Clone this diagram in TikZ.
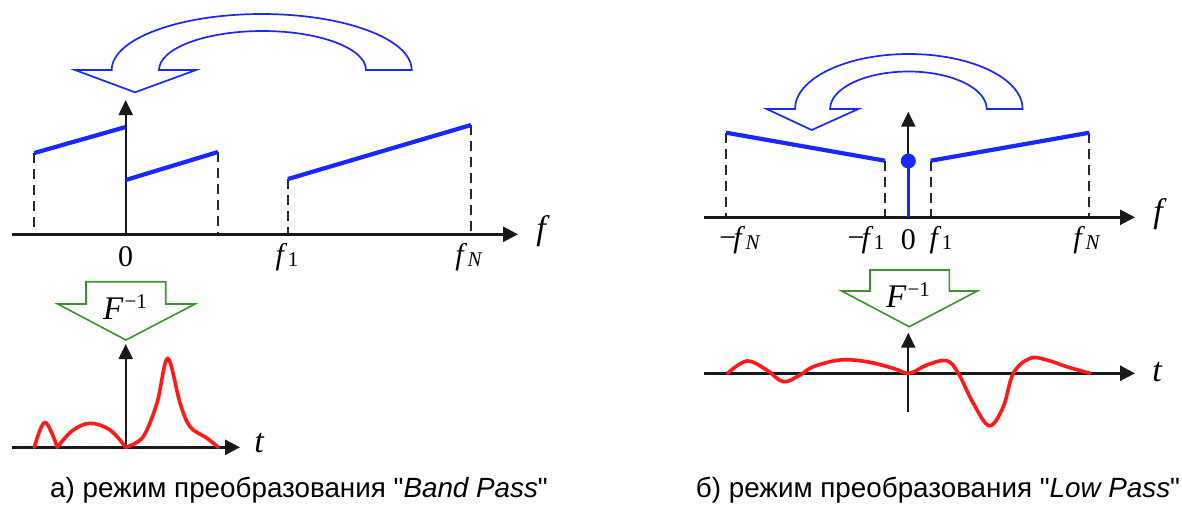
\documentclass[tikz,border=0pt]{standalone}
\usepackage{fontspec}
\setmainfont{Liberation Serif}
\newfontfamily\capfont{Liberation Sans}
\usetikzlibrary{arrows.meta}
\definecolor{sigblue}{RGB}{20,40,255}
\definecolor{sigred}{RGB}{255,25,25}
\definecolor{arrgreen}{RGB}{55,150,40}
\definecolor{axisgray}{RGB}{25,25,25}
\definecolor{dashgray}{RGB}{40,40,40}
\newcommand{\fsub}[1]{\textit{f}\kern0.5pt{\fontsize{21}{21}\selectfont\raisebox{-0.25ex}{#1}}}
\newcommand{\finv}{{\fontsize{33}{33}\selectfont\textit{F}\kern1pt\raisebox{11pt}{\fontsize{21}{21}\selectfont −1}}}
\begin{document}
\begin{tikzpicture}[x=1pt,y=-1pt,
  axis/.style={line width=2.6pt,draw=axisgray,-{Triangle[length=15pt,width=15pt]}},
  vaxis/.style={line width=2.2pt,draw=axisgray,-{Triangle[length=15pt,width=14pt]}},
  guide/.style={line width=2pt,draw=dashgray,dash pattern=on 10pt off 6pt},
  spec/.style={line width=4.2pt,draw=sigblue},
  sig/.style={line width=3.6pt,draw=sigred,line cap=round,line join=round},
  bentarrow/.style={line width=1.7pt,draw=sigblue,fill=white,line join=miter},
  invarrow/.style={line width=1.6pt,draw=arrgreen,fill=white},
  lbl/.style={font=\fontsize{30}{32}\selectfont,inner sep=0pt},
  varlbl/.style={font=\fontsize{34}{36}\selectfont\itshape,inner sep=0pt},
  captxt/.style={font=\capfont\fontsize{27.8}{32}\selectfont,inner sep=0pt,anchor=base}
]
\useasboundingbox (0,0) rectangle (1182,507);

% ================= left panel (Band Pass) =================
\coordinate (LfS) at (12,234.3);
\coordinate (LfE) at (518,234.3);
\coordinate (Lo) at (125.7,234.3);
\coordinate (LvT) at (125.7,100);
\coordinate (La1) at (34.3,234.3);  \coordinate (La1t) at (34.3,153);
\coordinate (La2) at (218,234.3);   \coordinate (La2t) at (218,152);
\coordinate (La3) at (288,234.3);   \coordinate (La3t) at (288,179);
\coordinate (La4) at (471,234.3);   \coordinate (La4t) at (471,125);
\coordinate (Lv1) at (125.7,127);
\coordinate (Lv2) at (125.7,180);

\draw[guide] (La1t) -- (La1);
\draw[guide] (La2t) -- (La2);
\draw[guide] (La3t) -- (La3);
\draw[guide] (La4t) -- (La4);
\draw[axis] (LfS) -- (LfE);
\draw[vaxis] (Lo) -- (LvT);
\draw[spec] (La1t) -- (Lv1);
\draw[spec] (Lv2) -- (La2t);
\draw[spec] (La3t) -- (La4t);

\node[lbl] (L0) at (125.7,257) {0};
\node[lbl] (Lf1) at (287,257) {\fsub{1}};
\node[lbl] (LfN) at (469,257) {\fsub{\textit{N}}};
\node[varlbl] (Lf) at (541,231) {f};

% bent arrow (left)
\draw[bentarrow] (75,70) -- (111.7,70)
  arc[start angle=180,end angle=0,x radius=150pt,y radius=56pt]
  -- (366,70)
  arc[start angle=0,end angle=180,x radius=103.5pt,y radius=39pt]
  -- (196,70) -- (135,92.3) -- cycle;

% inverse transform arrow (left)
\draw[invarrow] (86,281.7) -- (165.7,281.7) -- (165.7,304) -- (195,304)
  -- (126,340) -- (57.7,304) -- (86,304) -- cycle;
\node[inner sep=0pt] (LF) at (125,307) {\finv};

% time axes (left)
\coordinate (LtS) at (12,447.3);
\coordinate (LtE) at (240,447.3);
\coordinate (Lto) at (125.7,447.3);
\coordinate (LtT) at (125.7,344);
\draw[axis] (LtS) -- (LtE);
\draw[vaxis] (Lto) -- (LtT);
\node[varlbl] (Lt) at (259,443) {t};

\draw[sig] plot[smooth,tension=0.6] coordinates {(34.3,447.3) (45,422.3) (57.3,447.3)}
  -- plot[smooth,tension=0.6] coordinates {(57.3,447.3) (72,431) (90,423.3) (110,430) (125.7,447.3)}
  -- plot[smooth,tension=0.55] coordinates {(125.7,447.3) (143,437) (157,403) (167.7,358.3) (180,403) (190,426.7) (206.7,438) (218.3,447.3)};

\node[captxt] (capA) at (299,497) {а) режим преобразования "\textit{Band Pass}"};

% ================= right panel (Low Pass) =================
\coordinate (RfS) at (704,217.3);
\coordinate (RfE) at (1135,217.3);
\coordinate (Ro) at (908.3,217.3);
\coordinate (RvT) at (908.3,111.7);
\coordinate (Rdot) at (908.3,161);
\coordinate (Ra1) at (726,217.3);    \coordinate (Ra1t) at (726,132.7);
\coordinate (Ra2) at (885,217.3);    \coordinate (Ra2t) at (885,160.7);
\coordinate (Ra3) at (930.7,217.3);  \coordinate (Ra3t) at (930.7,160.7);
\coordinate (Ra4) at (1089.3,217.3); \coordinate (Ra4t) at (1089.3,132.7);

\draw[guide] (Ra1t) -- (Ra1);
\draw[guide] (Ra2t) -- (Ra2);
\draw[guide] (Ra3t) -- (Ra3);
\draw[guide] (Ra4t) -- (Ra4);
\draw[axis] (RfS) -- (RfE);
\draw[vaxis] (Ro) -- (RvT);
\draw[line width=3pt,draw=sigblue] (Ro) -- (Rdot);
\fill[sigblue] (Rdot) circle[radius=7.5pt];
\draw[spec] (Ra1t) -- (Ra2t);
\draw[spec] (Ra3t) -- (Ra4t);

\node[lbl] (RmfN) at (740,240) {−\kern-3pt\fsub{\textit{N}}};
\node[lbl] (Rmf1) at (866,240) {−\kern-3pt\fsub{1}};
\node[lbl] (R0) at (908.3,240) {0};
\node[lbl] (Rf1) at (941,240) {\fsub{1}};
\node[lbl] (RfN) at (1087,240) {\fsub{\textit{N}}};
\node[varlbl] (Rf) at (1158,214) {f};

% bent arrow (right)
\draw[bentarrow] (766.7,109) -- (795,109)
  arc[start angle=180,end angle=0,x radius=113.8pt,y radius=55pt]
  -- (986.7,109)
  arc[start angle=0,end angle=180,x radius=78.3pt,y radius=37.5pt]
  -- (858.3,109) -- (811.7,130) -- cycle;

% inverse transform arrow (right)
\draw[invarrow] (870,270) -- (949.3,270) -- (949.3,291) -- (977.3,291)
  -- (909.3,326.7) -- (841.7,291) -- (870,291) -- cycle;
\node[inner sep=0pt] (RF) at (908,295) {\finv};

% time axes (right)
\coordinate (RtS) at (704,373.3);
\coordinate (RtE) at (1135,373.3);
\coordinate (RtB) at (908.3,411.7);
\coordinate (RtT) at (908.3,332.7);
\draw[axis] (RtS) -- (RtE);
\draw[vaxis] (RtB) -- (RtT);
\node[varlbl] (Rt) at (1157,372) {t};

\draw[sig] plot[smooth,tension=0.6] coordinates {(727.7,373.3) (746.7,361) (766.7,370) (783.3,381.7) (800,375) (813.3,366.7) (840,360) (866.7,361.7) (893.3,368.3) (909.3,373.3) (926.7,365) (946.7,360.7) (958.3,373.3) (973.3,403.3) (989.3,425.7) (1003.3,406.7) (1013.3,373.3) (1030,358.3) (1046.7,360) (1066.7,366.7) (1090,373.3)};

\node[captxt] (capB) at (938,497) {б) режим преобразования "\textit{Low Pass}"};
\end{tikzpicture}
\end{document}
